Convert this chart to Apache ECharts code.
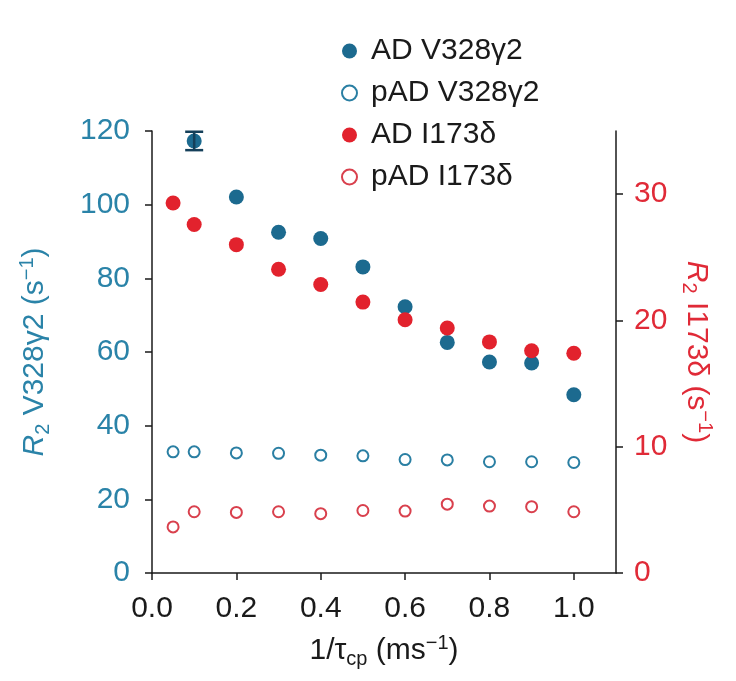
<!DOCTYPE html>
<html><head><meta charset="utf-8">
<script src="https://cdn.jsdelivr.net/npm/echarts@6/dist/echarts.min.js"></script>
<style>html,body{margin:0;padding:0;background:#fff}#c{width:736px;height:681px}</style>
</head><body><div id="c"></div>
<script>
// ---- data ----
const xV = [0.1, 0.2, 0.3, 0.4, 0.5, 0.6, 0.7, 0.8, 0.9, 1.0];
const adV = [117.3, 102.1, 92.5, 90.8, 83.1, 72.3, 62.6, 57.3, 57.0, 48.4];
const adVErr = [2.5, 0, 0, 0, 0, 0, 0, 0, 0, 0];
const xAll = [0.05, 0.1, 0.2, 0.3, 0.4, 0.5, 0.6, 0.7, 0.8, 0.9, 1.0];
const padV = [32.9, 32.9, 32.6, 32.5, 32.0, 31.8, 30.8, 30.7, 30.2, 30.2, 30.0];
const adI = [29.3, 27.6, 26.0, 24.05, 22.85, 21.45, 20.05, 19.4, 18.3, 17.6, 17.4];
const padI = [3.65, 4.85, 4.8, 4.85, 4.7, 4.95, 4.9, 5.45, 5.3, 5.25, 4.85];
const seriesNames = ['AD V328γ2', 'pAD V328γ2', 'AD I173δ', 'pAD I173δ'];
const xTicks = [0, 0.2, 0.4, 0.6, 0.8, 1.0];
const rightTicks = [0, 10, 20, 30];

const BLUE = '#1c6a8f', BLUE_T = '#2a83a8', BLUE_O = '#2a7fa3';
const RED = '#e2222d', RED_T = '#e02a37', RED_O = '#d9404d';
const FONT = 'Liberation Sans, Arial, sans-serif';
const AX = '#1a1a1a';

const pairs = (xs, ys) => xs.map((x, i) => [x, ys[i]]);

function nameRich(color) {
  return {
    it: {fontStyle: 'italic', fontSize: 30, color, fontFamily: FONT, lineHeight: 36},
    n: {fontSize: 30, color, fontFamily: FONT, lineHeight: 36},
    sub: {fontSize: 20, color, fontFamily: FONT, lineHeight: 20, verticalAlign: 'bottom'},
    sup: {fontSize: 20, color, fontFamily: FONT, lineHeight: 20, verticalAlign: 'top'}
  };
}

const chart = echarts.init(document.getElementById('c'), null, {renderer: 'canvas'});
chart.setOption({
  animation: false,
  backgroundColor: '#fff',
  textStyle: {fontFamily: FONT},
  grid: {left: 152, right: 120, top: 131, bottom: 108},
  legend: {
    orient: 'vertical', left: 336, top: 31, itemGap: 12,
    itemWidth: 15, itemHeight: 15,
    data: seriesNames,
    textStyle: {fontSize: 30, color: '#1a1a1a', fontFamily: FONT, lineHeight: 30, padding: [0, 0, 0, 9]}
  },
  xAxis: {
    type: 'value', min: 0, max: 1.1,
    name: '{n|1/τ}{sub|cp}{n| (ms}{sup|−1}{n|)}',
    nameLocation: 'middle', nameGap: 60,
    nameTextStyle: {rich: nameRich('#1a1a1a')},
    axisLine: {lineStyle: {color: AX, width: 1.5}},
    axisTick: {length: 7, lineStyle: {color: AX, width: 1.5}, customValues: xTicks},
    axisLabel: {fontSize: 30, color: '#1a1a1a', margin: 21, customValues: xTicks,
      formatter: v => v.toFixed(1)},
    splitLine: {show: false}
  },
  yAxis: [{
    type: 'value', min: 0, max: 120, interval: 20, position: 'left',
    name: '{it|R}{sub|2}{n| V328γ2 (s}{sup|−1}{n|)}',
    nameLocation: 'middle', nameGap: 99,
    nameTextStyle: {rich: nameRich(BLUE_T)},
    axisLine: {show: true, lineStyle: {color: AX, width: 1.5}},
    axisTick: {show: true, length: 7, lineStyle: {color: AX, width: 1.5}},
    axisLabel: {fontSize: 30, color: BLUE_T, margin: 22},
    splitLine: {show: false}
  }, {
    type: 'value', min: 0, max: 35, position: 'right',
    name: '{it|R}{sub|2}{n| I173δ (s}{sup|−1}{n|)}',
    nameLocation: 'middle', nameGap: 62, nameRotate: -90,
    nameTextStyle: {rich: nameRich(RED_T)},
    axisLine: {show: true, lineStyle: {color: AX, width: 1.5}},
    axisTick: {show: true, length: 7, lineStyle: {color: AX, width: 1.5}, customValues: rightTicks},
    axisLabel: {fontSize: 30, color: RED_T, margin: 18, customValues: rightTicks},
    splitLine: {show: false}
  }],
  series: [{
    name: seriesNames[0], type: 'scatter', yAxisIndex: 0, z: 3,
    symbol: 'circle', symbolSize: 15, itemStyle: {color: BLUE, opacity: 1},
    data: pairs(xV, adV)
  }, {
    name: seriesNames[1], type: 'scatter', yAxisIndex: 0,
    symbol: 'emptyCircle', symbolSize: 11,
    itemStyle: {color: BLUE_O, borderColor: BLUE_O, borderWidth: 2, opacity: 1},
    data: pairs(xAll, padV)
  }, {
    name: seriesNames[2], type: 'scatter', yAxisIndex: 1, z: 3,
    symbol: 'circle', symbolSize: 15, itemStyle: {color: RED, opacity: 1},
    data: pairs(xAll, adI)
  }, {
    name: seriesNames[3], type: 'scatter', yAxisIndex: 1,
    symbol: 'emptyCircle', symbolSize: 11,
    itemStyle: {color: RED_O, borderColor: RED_O, borderWidth: 2, opacity: 1},
    data: pairs(xAll, padI)
  }, {
    type: 'custom', yAxisIndex: 0, z: 4, silent: true,
    data: xV.map((x, i) => [x, adV[i], adVErr[i]]).filter(d => d[2] > 0),
    renderItem: (params, api) => {
      const x = api.value(0), y = api.value(1), e = api.value(2);
      const top = api.coord([x, y + e]), bot = api.coord([x, y - e]);
      const w = 9;
      const st = {stroke: '#15405a', lineWidth: 2.5};
      return {type: 'group', children: [
        {type: 'line', shape: {x1: top[0], y1: top[1], x2: bot[0], y2: bot[1]}, style: st},
        {type: 'line', shape: {x1: top[0] - w, y1: top[1], x2: top[0] + w, y2: top[1]}, style: st},
        {type: 'line', shape: {x1: bot[0] - w, y1: bot[1], x2: bot[0] + w, y2: bot[1]}, style: st}
      ]};
    }
  }]
});
</script></body></html>
